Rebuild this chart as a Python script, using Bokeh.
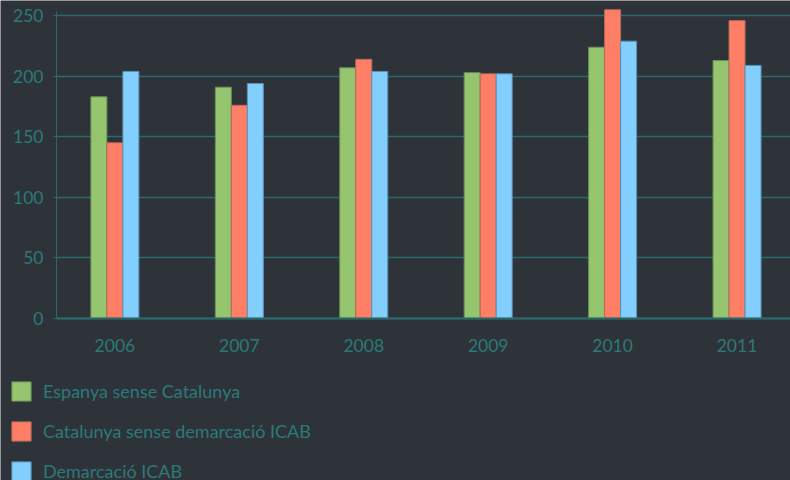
from bokeh.plotting import figure
from bokeh.models import ColumnDataSource, Range1d, FixedTicker, Legend, LegendItem
from bokeh.transform import dodge
from bokeh.embed import file_html
from bokeh.resources import INLINE

years = ["2006", "2007", "2008", "2009", "2010", "2011"]
espanya = [183, 191, 207, 203, 224, 213]
catalunya = [145, 176, 214, 202, 255, 246]
icab = [204, 194, 204, 202, 229, 209]
series_names = ["Espanya sense Catalunya", "Catalunya sense demarcació ICAB", "Demarcació ICAB"]
y_ticks = [0, 50, 100, 150, 200, 250]

BG = "#2e333a"
TEAL = "#2b7a78"
GRID = "#2a6a6a"
FONT = "Lato"
fills = ["#95c56e", "#ff7f66", "#82cffd"]
lines = ["#6a9157", "#b8695c", "#5a92b8"]

# layout: frame fills the whole canvas; axes are pinned inside it
X_LEFT, X_RIGHT = -0.9194, 5.4297
Y_BOTTOM, Y_TOP = -134.2, 262.65
AXIS_X = -0.4693

idx = list(range(len(years)))
src = ColumnDataSource(dict(x=idx, esp=espanya, cat=catalunya, icab=icab))

p = figure(width=790, height=480, output_backend="svg", toolbar_location=None,
           x_range=Range1d(X_LEFT, X_RIGHT), y_range=Range1d(Y_BOTTOM, Y_TOP),
           min_border_left=0, min_border_right=0, min_border_top=0, min_border_bottom=0,
           background_fill_color=BG, border_fill_color=BG, outline_line_color=None)

bw = 0.1286
rs = []
for col, off, i in (("esp", -bw, 0), ("cat", 0, 1), ("icab", bw, 2)):
    rs.append(p.vbar(x=dodge("x", off, range=p.x_range), top=col, width=bw, source=src,
                     fill_color=fills[i], line_color=lines[i], line_width=1))

p.xgrid.visible = False
p.ygrid.ticker = FixedTicker(ticks=y_ticks)
p.ygrid.grid_line_color = GRID
p.ygrid.grid_line_width = 1.3
g = p.ygrid[0]
if "cross_bounds" in g.properties():
    g.cross_bounds = (AXIS_X, X_RIGHT)

p.yaxis.fixed_location = AXIS_X
p.yaxis.bounds = (0, 253.5)
p.yaxis.ticker = FixedTicker(ticks=y_ticks)
p.yaxis.axis_line_color = GRID
p.yaxis.major_tick_line_color = GRID
p.yaxis.major_tick_out = 3
p.yaxis.major_tick_in = 0
p.yaxis.minor_tick_line_color = None
p.yaxis.major_label_standoff = 10
p.yaxis.major_label_text_color = TEAL
p.yaxis.major_label_text_font = FONT
p.yaxis.major_label_text_font_size = "17.5px"

p.xaxis.fixed_location = 0
p.xaxis.bounds = (AXIS_X, X_RIGHT)
p.xaxis.ticker = FixedTicker(ticks=idx)
p.xaxis.major_label_overrides = {i: y for i, y in zip(idx, years)}
p.xaxis.axis_line_color = GRID
p.xaxis.axis_line_width = 2
p.xaxis.major_tick_line_color = None
p.xaxis.minor_tick_line_color = None
p.xaxis.major_tick_out = 0
p.xaxis.major_tick_in = 0
p.xaxis.major_label_standoff = 21
p.xaxis.major_label_text_color = TEAL
p.xaxis.major_label_text_font = FONT
p.xaxis.major_label_text_font_size = "17.5px"

legend = Legend(items=[LegendItem(label=n, renderers=[r]) for n, r in zip(series_names, rs)],
                location=(9, -3), orientation="vertical",
                glyph_width=24, glyph_height=24, label_height=24, spacing=16,
                label_standoff=10, padding=0, margin=0,
                border_line_color=None, background_fill_alpha=0,
                label_text_color=TEAL, label_text_font=FONT, label_text_font_size="18px")
p.add_layout(legend, "center")

open("out.html", "w").write(file_html(p, INLINE))
